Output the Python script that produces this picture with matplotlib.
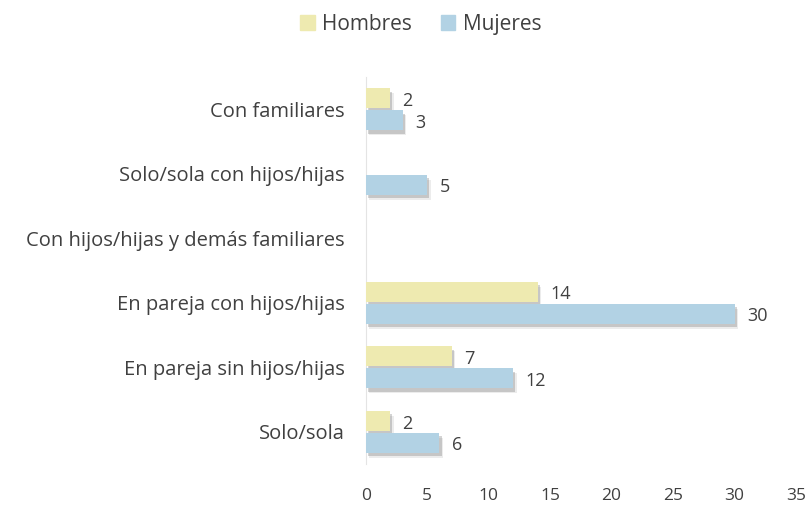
import matplotlib
matplotlib.use("Agg")
import matplotlib.pyplot as plt
import matplotlib.patheffects as pe
import numpy as np

plt.rcParams["font.family"] = ["Open Sans", "DejaVu Sans"]

categories = [
    "Con familiares",
    "Solo/sola con hijos/hijas",
    "Con hijos/hijas y demás familiares",
    "En pareja con hijos/hijas",
    "En pareja sin hijos/hijas",
    "Solo/sola",
]
hombres = [2, 0, 0, 14, 7, 2]
mujeres = [3, 5, 0, 30, 12, 6]
xticks = [0, 5, 10, 15, 20, 25, 30, 35]

C_H, C_M = "#eeeab0", "#b2d2e4"
TXT = "#404040"

fig = plt.figure(figsize=(8.09, 5.09), dpi=100)
ax = fig.add_axes([0.452, 0.088, 0.532, 0.761])

y = np.arange(len(categories))
bh = 0.31
shadow = [
    pe.SimplePatchShadow(offset=(2.5, -3.5), shadow_rgbFace="#666666", alpha=0.12),
    pe.SimplePatchShadow(offset=(1.5, -2.5), shadow_rgbFace="#555555", alpha=0.25),
    pe.Normal(),
]

for vals, col, off, name in [(hombres, C_H, -0.17, "Hombres"), (mujeres, C_M, 0.17, "Mujeres")]:
    bars = ax.barh(y + off, vals, height=bh, color=col, label=name, zorder=2)
    for b, v in zip(bars, vals):
        if v == 0:
            b.set_visible(False)
            continue
        b.set_path_effects(shadow)
        ax.text(v + 1.0, b.get_y() + b.get_height() / 2 + 0.04, str(v),
                ha="left", va="center", fontsize=13, color=TXT)

ax.set_yticks(y)
ax.set_yticklabels(categories, fontsize=14.5, color=TXT)
ax.set_ylim(len(categories) - 0.5, -0.5)
ax.set_xlim(0, 35)
ax.set_xticks(xticks)
ax.set_xticklabels([str(t) for t in xticks], fontsize=12.5, color=TXT)
ax.tick_params(axis="both", length=0)
ax.tick_params(axis="x", pad=17)
ax.tick_params(axis="y", pad=15)
for s in ["top", "right", "bottom"]:
    ax.spines[s].set_visible(False)
ax.spines["left"].set_color("#e4e4e4")
ax.spines["left"].set_zorder(1)

handles = [plt.Rectangle((0, 0), 1, 1, color=C_H), plt.Rectangle((0, 0), 1, 1, color=C_M)]
leg = fig.legend(handles, ["Hombres", "Mujeres"], loc="upper center",
                 bbox_to_anchor=(0.52, 1.01), ncol=2, frameon=False,
                 fontsize=15, handlelength=0.7, handleheight=0.7, handletextpad=0.35,
                 columnspacing=1.4)
for t in leg.get_texts():
    t.set_color(TXT)

fig.savefig("out.png", dpi=100, facecolor="white")
